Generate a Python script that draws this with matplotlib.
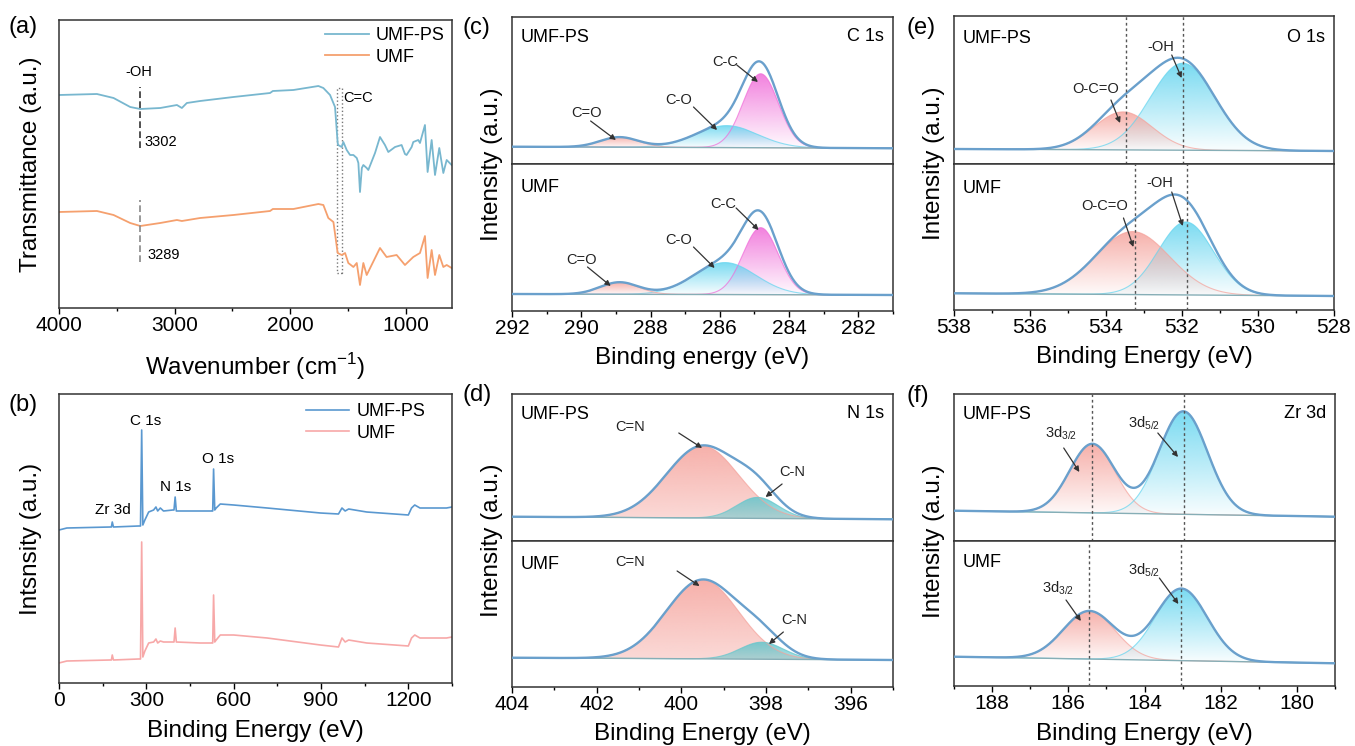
import numpy as np
import matplotlib
matplotlib.use("Agg")
import matplotlib.pyplot as plt
from matplotlib.colors import to_rgb
from matplotlib.patches import Rectangle
from matplotlib.ticker import MultipleLocator

plt.rcParams["font.family"] = ["Liberation Sans", "DejaVu Sans"]
plt.rcParams["axes.linewidth"] = 1.1
plt.rcParams["axes.edgecolor"] = "#333333"

# (a) FTIR, values
ftir_wn_ps = [4000, 3672, 3528, 3384, 3297, 3124, 2980, 2937, 2894, 2779, 2491, 2174, 2150, 1972,
              1756, 1713, 1655, 1612, 1589, 1585, 1554, 1540, 1511, 1482, 1453, 1424, 1410, 1396,
              1380, 1367, 1338, 1324, 1266, 1223, 1180, 1151, 1093, 1036, 1007, 993, 949, 935,
              892, 877, 834, 811, 776, 747, 710, 675, 646, 603]
ftir_ps = [213, 214, 210, 201, 199, 200, 203, 200, 205, 207, 211, 215, 217, 218,
           222, 220, 213, 201, 165, 163, 161, 166, 158, 153, 153, 150, 145, 116,
           140, 143, 140, 138, 155, 171, 163, 156, 161, 163, 154, 153, 161, 166,
           168, 165, 183, 136, 168, 133, 160, 135, 148, 143]
ftir_wn_umf = [4000, 3672, 3528, 3384, 3297, 3124, 2980, 2937, 2779, 2491, 2174, 2150, 1972, 1756,
               1713, 1670, 1626, 1589, 1554, 1525, 1497, 1453, 1424, 1396, 1367, 1338, 1223, 1166,
               1079, 1007, 935, 877, 834, 811, 776, 747, 710, 675, 646, 603]
ftir_umf = [96, 97, 93, 85, 82, 85, 88, 87, 90, 93, 97, 99, 99, 104,
            103, 90, 86, 55, 53, 55, 45, 41, 45, 23, 45, 33, 60, 51,
            53, 43, 51, 55, 72, 30, 58, 33, 53, 41, 43, 40]

# (b) XPS survey
survey_be = [0, 27, 176, 180, 183, 187, 273, 280, 284, 288, 295, 308, 325, 333, 339, 348, 359, 391,
             395, 399, 403, 485, 525, 528, 531, 535, 540, 554, 600, 715, 898, 960, 972, 983, 995,
             1057, 1200, 1211, 1222, 1240, 1331, 1350]
survey_ps = [153, 155, 156, 156, 161, 156, 157, 157, 253, 158, 163, 171, 173, 176, 172, 175, 172, 173,
             173, 186, 172, 172, 172, 172, 214, 173, 175, 179, 178, 175, 170, 169, 175, 172, 174,
             171, 168, 175, 178, 175, 175, 176]
survey_umf = [20, 22, 23, 23, 28, 23, 24, 24, 141, 26, 32, 40, 41, 44, 40, 42, 41, 41,
              41, 55, 41, 40, 40, 40, 88, 41, 43, 48, 48, 45, 38, 36, 45, 41, 43,
              40, 37, 45, 48, 45, 45, 46]

# fitted components: (centre eV, FWHM eV, height), baseline (left, right)
c1s_ps_peaks = [(284.82, 1.2, 74), (285.8, 2.1, 22), (288.9, 1.3, 10)]
c1s_ps_base = (17.3, 15.7)
c1s_umf_peaks = [(284.82, 1.2, 67), (285.85, 2.1, 32), (288.9, 1.3, 12)]
c1s_umf_base = (17.0, 16.0)

n1s_ps_peaks = [(399.5, 2.0, 72), (398.2, 1.15, 21)]
n1s_ps_base = (24.3, 21.7)
n1s_umf_peaks = [(399.5, 2.0, 79), (398.1, 1.2, 17)]
n1s_umf_base = (29.3, 27.0)

o1s_ps_peaks = [(531.98, 2.0, 87), (533.55, 1.8, 38)]
o1s_ps_base = (15.0, 13.0)
o1s_umf_peaks = [(531.9, 1.7, 73), (533.3, 2.3, 63)]
o1s_umf_base = (16.7, 14.0)

zr_ps_peaks = [(185.37, 1.4, 69), (182.98, 1.5, 103)]
zr_ps_base = (30.3, 24.3)
zr_umf_peaks = [(185.45, 1.6, 48), (183.03, 1.6, 72)]
zr_umf_base = (29.3, 22.7)

W, H = 1355, 746
fig = plt.figure(figsize=(W / 100, H / 100), dpi=100)

MAGENTA = "#f06ad8"
CYAN = "#62d4ef"
SALMON = "#f5a29b"
TEAL = "#62c6cc"
ENV = "#6aa0cc"


def add_ax(x0, y0, x1, y1):
    return fig.add_axes([x0 / W, 1 - y1 / H, (x1 - x0) / W, (y1 - y0) / H])


def gradient_fill(ax, x, top, base, color, a_top=0.85, a_bot=0.03, z=1):
    poly = ax.fill_between(x, base, top, facecolor="none", edgecolor="none", zorder=z)
    r, g, b = to_rgb(color)
    img = np.zeros((256, 1, 4))
    img[:, 0, 0], img[:, 0, 1], img[:, 0, 2] = r, g, b
    img[:, 0, 3] = np.linspace(a_bot, a_top, 256)
    im = ax.imshow(img, extent=[x.min(), x.max(), base.min(), top.max()], origin="lower",
                   aspect="auto", zorder=z, interpolation="bilinear")
    im.set_clip_path(poly.get_paths()[0], transform=ax.transData)


def draw_xps(ax, xlim, height, peaks, colors, base_lr, fades=None):
    x = np.linspace(min(xlim), max(xlim), 700)
    base = np.interp(x, [xlim[1], xlim[0]], [base_lr[1], base_lr[0]])
    env = base.copy()
    for i, ((c, w, h), col) in enumerate(zip(peaks, colors)):
        comp = h * np.exp(-4 * np.log(2) * ((x - c) / w) ** 2)
        a_bot = fades[i] if fades else 0.03
        gradient_fill(ax, x, base + comp, base, col, a_bot=a_bot, z=1 + i)
        ax.plot(x, base + comp, color=col, lw=0.8, alpha=0.7, zorder=3)
        env += comp
    ax.plot(x, base, color="#86aeb6", lw=1.0, zorder=4)
    ax.plot(x, env, color=ENV, lw=1.7, zorder=5)
    ax.set_xlim(xlim)
    ax.set_ylim(0, height)
    ax.set_yticks([])


def style_x(ax, major, minor, show=True):
    ax.xaxis.set_major_locator(MultipleLocator(major))
    ax.xaxis.set_minor_locator(MultipleLocator(minor))
    ax.tick_params(axis="x", which="major", direction="out", length=4, width=1, labelsize=15, pad=2)
    ax.tick_params(axis="x", which="minor", direction="out", length=2.5, width=1)
    if not show:
        ax.tick_params(axis="x", which="both", bottom=False, labelbottom=False)


def arrow(ax, label, text_xy, tail, head, size=10.5):
    ax.text(*text_xy, label, ha="center", va="center", fontsize=size, color="#222222", zorder=7)
    ax.annotate("", xy=head, xytext=tail,
                arrowprops=dict(arrowstyle="-|>", color="#333333", lw=0.9,
                                mutation_scale=8, shrinkA=0, shrinkB=0), zorder=7)


def corner_labels(ax, left, right=None, y=0.86):
    ax.text(0.022, y, left, transform=ax.transAxes, ha="left", va="center", fontsize=13)
    if right:
        ax.text(0.977, y + 0.01, right, transform=ax.transAxes, ha="right", va="center", fontsize=13)


def xlabel(ax, text, dy, h):
    ax.set_xlabel(text, fontsize=17.5, va="center")
    ax.xaxis.set_label_coords(0.5, -dy / h)


# ---------------- (a) FTIR ----------------
ax = add_ax(59, 20, 452, 308)
ax.plot(ftir_wn_ps, ftir_ps, color="#78b7cf", lw=1.3, label="UMF-PS")
ax.plot(ftir_wn_umf, ftir_umf, color="#f5a06e", lw=1.3, label="UMF")
ax.plot([3303, 3303], [160, 221], color="#333333", lw=1.2, ls=(0, (4, 2)))
ax.plot([3297, 3297], [46, 108], color="#888888", lw=1.2, ls=(0, (4, 2)))
ax.add_patch(Rectangle((1554, 35), 44, 185, fill=False, ec="#777777", lw=1.0, ls=":"))
ax.text(3306, 236, "-OH", ha="center", va="center", fontsize=10.5)
ax.text(3263, 166, "3302", ha="left", va="center", fontsize=10.5)
ax.text(3237, 53, "3289", ha="left", va="center", fontsize=10.5)
ax.text(1543, 210, "C=C", ha="left", va="center", fontsize=10.5)
ax.set_xlim(4000, 600)
ax.set_ylim(0, 288)
ax.set_yticks([])
style_x(ax, 1000, 500)
ax.legend(loc="upper right", frameon=False, fontsize=13, handlelength=2.4, handletextpad=0.4,
          labelspacing=0.25, borderaxespad=0.1, borderpad=0.3)
xlabel(ax, "Wavenumber (cm$^{\\mathregular{-1}}$)", 59, 288)
ax.set_ylabel("Transmittance (a.u.)", fontsize=17.5, va="center")
ax.yaxis.set_label_coords(-28 / 393, 0.5)

# ---------------- (b) survey ----------------
ax = add_ax(59, 394, 452, 683)
ax.plot(survey_be, survey_ps, color="#5a98d0", lw=1.2, label="UMF-PS")
ax.plot(survey_be, survey_umf, color="#f7a8a8", lw=1.2, label="UMF")
for lab, xx, yy in [("Zr 3d", 185, 173), ("C 1s", 296, 262), ("N 1s", 399, 196), ("O 1s", 545, 224)]:
    ax.text(xx, yy, lab, ha="center", va="center", fontsize=11)
ax.set_xlim(0, 1350)
ax.set_ylim(0, 289)
ax.set_yticks([])
style_x(ax, 300, 150)
ax.legend(loc="upper right", bbox_to_anchor=(0.955, 1.0), frameon=False, fontsize=13,
          handlelength=2.4, handletextpad=0.4, labelspacing=0.25, borderaxespad=0.1, borderpad=0.4)
xlabel(ax, "Binding Energy (eV)", 48, 289)
ax.set_ylabel("Intsnsity (a.u.)", fontsize=17.5, va="center")
ax.yaxis.set_label_coords(-28 / 393, 0.5)

# ---------------- (c) C 1s ----------------
ax = add_ax(512, 17, 893, 164)
draw_xps(ax, (292, 281), 147, c1s_ps_peaks, [MAGENTA, CYAN, SALMON], c1s_ps_base)
style_x(ax, 2, 1, show=False)
corner_labels(ax, "UMF-PS", "C 1s")
arrow(ax, "C-C", (285.84, 102), (285.51, 99), (284.90, 82))
arrow(ax, "C-O", (287.19, 64), (286.76, 57), (286.08, 34))
arrow(ax, "C=O", (289.86, 51), (289.73, 43), (289.0, 24))

ax = add_ax(512, 164, 893, 311)
draw_xps(ax, (292, 281), 147, c1s_umf_peaks, [MAGENTA, CYAN, SALMON], c1s_umf_base)
style_x(ax, 2, 1)
corner_labels(ax, "UMF", y=0.84)
arrow(ax, "C-C", (285.89, 107), (285.53, 103), (284.88, 81))
arrow(ax, "C-O", (287.19, 71), (286.76, 64), (286.15, 43))
arrow(ax, "C=O", (289.98, 51), (289.82, 44), (289.15, 25))
xlabel(ax, "Binding energy (eV)", 47, 147)
fig.text(492 / W, 1 - 164 / H, "Intensity (a.u.)", rotation=90, ha="center", va="center", fontsize=17.5)

# ---------------- (d) N 1s ----------------
ax = add_ax(512, 394, 893, 541)
draw_xps(ax, (404, 395), 147, n1s_ps_peaks, [SALMON, TEAL], n1s_ps_base, fades=[0.4, 0.5])
style_x(ax, 2, 1, show=False)
corner_labels(ax, "UMF-PS", "N 1s")
arrow(ax, "C=N", (401.22, 114), (400.06, 108), (399.51, 93))
arrow(ax, "C-N", (397.38, 69), (397.62, 57), (398.01, 44))

ax = add_ax(512, 541, 893, 687)
draw_xps(ax, (404, 395), 146, n1s_umf_peaks, [SALMON, TEAL], n1s_umf_base, fades=[0.4, 0.5])
style_x(ax, 2, 1)
corner_labels(ax, "UMF", y=0.84)
arrow(ax, "C=N", (401.21, 125), (400.1, 116), (399.57, 101))
arrow(ax, "C-N", (397.34, 67), (397.59, 55), (397.93, 43))
xlabel(ax, "Binding Energy (eV)", 47, 146)
fig.text(492 / W, 1 - 540 / H, "Intensity (a.u.)", rotation=90, ha="center", va="center", fontsize=17.5)

# ---------------- (e) O 1s ----------------
ax = add_ax(954, 16, 1334, 164)
draw_xps(ax, (538, 528), 148, o1s_ps_peaks, [CYAN, SALMON], o1s_ps_base)
style_x(ax, 2, 1, show=False)
corner_labels(ax, "UMF-PS", "O 1s", y=0.845)
for xv in (533.48, 531.97):
    ax.axvline(xv, color="#555555", lw=1.0, ls=(0, (2, 2)), zorder=6)
arrow(ax, "-OH", (532.55, 117), (532.27, 109), (532.01, 86))
arrow(ax, "O-C=O", (534.27, 75), (533.87, 64), (533.63, 41))

ax = add_ax(954, 164, 1334, 310)
draw_xps(ax, (538, 528), 146, o1s_umf_peaks, [CYAN, SALMON], o1s_umf_base)
style_x(ax, 2, 1)
corner_labels(ax, "UMF", y=0.83)
for xv in (533.24, 531.88):
    ax.axvline(xv, color="#555555", lw=1.0, ls=(0, (2, 2)), zorder=6)
arrow(ax, "-OH", (532.58, 127), (532.27, 118), (531.98, 84))
arrow(ax, "O-C=O", (534.03, 104), (533.54, 92), (533.28, 63))
xlabel(ax, "Binding Energy (eV)", 47, 146)
fig.text(934 / W, 1 - 163 / H, "Intensity (a.u.)", rotation=90, ha="center", va="center", fontsize=17.5)

# ---------------- (f) Zr 3d ----------------
ax = add_ax(954, 394, 1335, 541)
draw_xps(ax, (189, 179), 147, zr_ps_peaks, [SALMON, CYAN], zr_ps_base)
style_x(ax, 2, 1, show=False)
corner_labels(ax, "UMF-PS", "Zr 3d")
for xv in (185.37, 182.97):
    ax.axvline(xv, color="#555555", lw=1.0, ls=(0, (2, 2)), zorder=6)
arrow(ax, "3d$_{\\mathregular{3/2}}$", (186.19, 108), (186.12, 93), (185.71, 69))
arrow(ax, "3d$_{\\mathregular{5/2}}$", (184.0, 118), (183.65, 108), (183.12, 84))

ax = add_ax(954, 541, 1335, 686)
draw_xps(ax, (189, 179), 145, zr_umf_peaks, [SALMON, CYAN], zr_umf_base)
style_x(ax, 2, 1)
corner_labels(ax, "UMF", y=0.85)
for xv in (185.45, 183.03):
    ax.axvline(xv, color="#555555", lw=1.0, ls=(0, (2, 2)), zorder=6)
arrow(ax, "3d$_{\\mathregular{3/2}}$", (186.28, 98), (186.06, 86), (185.67, 65))
arrow(ax, "3d$_{\\mathregular{5/2}}$", (184.0, 116), (183.61, 108), (183.11, 82))
xlabel(ax, "Binding Energy (eV)", 48, 145)
fig.text(934 / W, 1 - 541 / H, "Intensity (a.u.)", rotation=90, ha="center", va="center", fontsize=17.5)

# panel letters
for lab, px, py in [("(a)", 8, 27), ("(b)", 8, 405), ("(c)", 463, 28),
                    ("(d)", 463, 395), ("(e)", 906, 28), ("(f)", 906, 396)]:
    fig.text(px / W, 1 - py / H, lab, ha="left", va="center", fontsize=17)

fig.savefig("out.png", dpi=100)
